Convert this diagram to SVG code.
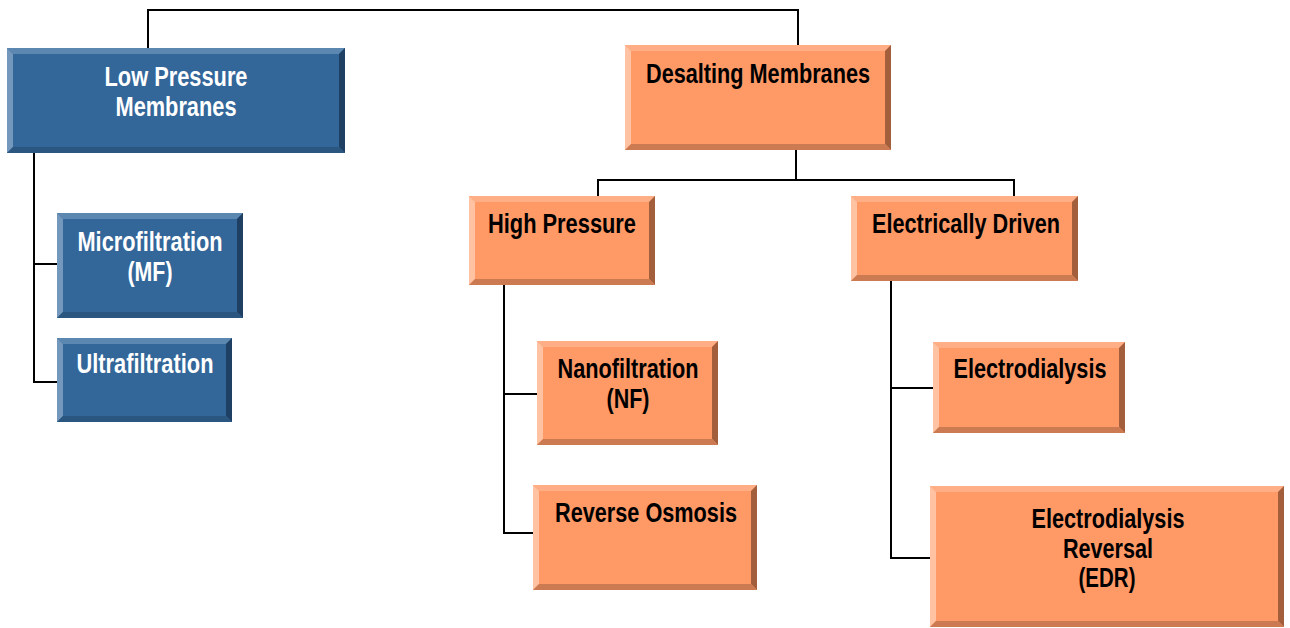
<svg xmlns="http://www.w3.org/2000/svg" width="1290" height="628" viewBox="0 0 1290 628">
  <style>
    .bf { fill: #336699; }
    .bt { fill: #5C87B1; }
    .bl { fill: #7498BC; }
    .br { fill: #1F4063; }
    .bb { fill: #2A5680; }
    .of { fill: #FF9966; }
    .ot { fill: #FFAE86; }
    .ol { fill: #FFC3A3; }
    .or { fill: #A35F3C; }
    .ob { fill: #CC7A52; }
    text { font-family: "Liberation Sans Narrow", "Arial Narrow", "Liberation Sans", sans-serif; font-weight: bold; font-size: 27px; text-anchor: middle; }
    .w { fill: #FFFFFF; }
    .k { fill: #000000; }
    .conn { fill: none; stroke: #000000; stroke-width: 2; }
  </style>

  <g id="connectors" class="conn">
    <polyline points="148,48 148,10 798,10 798,45"/>
    <polyline points="34,153 34,382 57,382"/>
    <line x1="34" y1="264" x2="57" y2="264"/>
    <polyline points="796,150 796,180"/>
    <polyline points="598,196 598,180 1014,180 1014,196"/>
    <polyline points="504,285 504,533 533,533"/>
    <line x1="504" y1="394" x2="537" y2="394"/>
    <polyline points="891,281 891,558 930,558"/>
    <line x1="891" y1="388" x2="933" y2="388"/>
  </g>

  <g id="low-pressure">
    <rect class="bf" x="7" y="48" width="338" height="105"/>
    <polygon class="bt" points="7,48 345,48 339,54 13,54"/>
    <polygon class="bl" points="7,48 13,54 13,147 7,153"/>
    <polygon class="br" points="345,48 345,153 339,147 339,54"/>
    <polygon class="bb" points="7,153 13,147 339,147 345,153"/>
    <text class="w" x="176" y="86" textLength="143" lengthAdjust="spacingAndGlyphs">Low Pressure</text>
    <text class="w" x="176" y="116" textLength="121" lengthAdjust="spacingAndGlyphs">Membranes</text>
  </g>

  <g id="desalting">
    <rect class="of" x="625" y="45" width="266" height="105"/>
    <polygon class="ot" points="625,45 891,45 885,51 631,51"/>
    <polygon class="ol" points="625,45 631,51 631,144 625,150"/>
    <polygon class="or" points="891,45 891,150 885,144 885,51"/>
    <polygon class="ob" points="625,150 631,144 885,144 891,150"/>
    <text class="k" x="758" y="83" textLength="224" lengthAdjust="spacingAndGlyphs">Desalting Membranes</text>
  </g>

  <g id="microfiltration">
    <rect class="bf" x="57" y="213" width="186" height="105"/>
    <polygon class="bt" points="57,213 243,213 237,219 63,219"/>
    <polygon class="bl" points="57,213 63,219 63,312 57,318"/>
    <polygon class="br" points="243,213 243,318 237,312 237,219"/>
    <polygon class="bb" points="57,318 63,312 237,312 243,318"/>
    <text class="w" x="150" y="251" textLength="145" lengthAdjust="spacingAndGlyphs">Microfiltration</text>
    <text class="w" x="150" y="281" textLength="45" lengthAdjust="spacingAndGlyphs">(MF)</text>
  </g>

  <g id="ultrafiltration">
    <rect class="bf" x="57" y="338" width="175" height="84"/>
    <polygon class="bt" points="57,338 232,338 226,344 63,344"/>
    <polygon class="bl" points="57,338 63,344 63,416 57,422"/>
    <polygon class="br" points="232,338 232,422 226,416 226,344"/>
    <polygon class="bb" points="57,422 63,416 226,416 232,422"/>
    <text class="w" x="145" y="373" textLength="137" lengthAdjust="spacingAndGlyphs">Ultrafiltration</text>
  </g>

  <g id="high-pressure">
    <rect class="of" x="469" y="196" width="186" height="89"/>
    <polygon class="ot" points="469,196 655,196 649,202 475,202"/>
    <polygon class="ol" points="469,196 475,202 475,279 469,285"/>
    <polygon class="or" points="655,196 655,285 649,279 649,202"/>
    <polygon class="ob" points="469,285 475,279 649,279 655,285"/>
    <text class="k" x="562" y="233" textLength="148" lengthAdjust="spacingAndGlyphs">High Pressure</text>
  </g>

  <g id="electrically-driven">
    <rect class="of" x="851" y="196" width="227" height="85"/>
    <polygon class="ot" points="851,196 1078,196 1072,202 857,202"/>
    <polygon class="ol" points="851,196 857,202 857,275 851,281"/>
    <polygon class="or" points="1078,196 1078,281 1072,275 1072,202"/>
    <polygon class="ob" points="851,281 857,275 1072,275 1078,281"/>
    <text class="k" x="966" y="233" textLength="188" lengthAdjust="spacingAndGlyphs">Electrically Driven</text>
  </g>

  <g id="nanofiltration">
    <rect class="of" x="537" y="341" width="181" height="104"/>
    <polygon class="ot" points="537,341 718,341 712,347 543,347"/>
    <polygon class="ol" points="537,341 543,347 543,439 537,445"/>
    <polygon class="or" points="718,341 718,445 712,439 712,347"/>
    <polygon class="ob" points="537,445 543,439 712,439 718,445"/>
    <text class="k" x="628" y="378" textLength="141" lengthAdjust="spacingAndGlyphs">Nanofiltration</text>
    <text class="k" x="628" y="408" textLength="43" lengthAdjust="spacingAndGlyphs">(NF)</text>
  </g>

  <g id="reverse-osmosis">
    <rect class="of" x="533" y="485" width="224" height="105"/>
    <polygon class="ot" points="533,485 757,485 751,491 539,491"/>
    <polygon class="ol" points="533,485 539,491 539,584 533,590"/>
    <polygon class="or" points="757,485 757,590 751,584 751,491"/>
    <polygon class="ob" points="533,590 539,584 751,584 757,590"/>
    <text class="k" x="646" y="522" textLength="182" lengthAdjust="spacingAndGlyphs">Reverse Osmosis</text>
  </g>

  <g id="electrodialysis">
    <rect class="of" x="933" y="342" width="192" height="91"/>
    <polygon class="ot" points="933,342 1125,342 1119,348 939,348"/>
    <polygon class="ol" points="933,342 939,348 939,427 933,433"/>
    <polygon class="or" points="1125,342 1125,433 1119,427 1119,348"/>
    <polygon class="ob" points="933,433 939,427 1119,427 1125,433"/>
    <text class="k" x="1030" y="378" textLength="153" lengthAdjust="spacingAndGlyphs">Electrodialysis</text>
  </g>

  <g id="edr">
    <rect class="of" x="930" y="486" width="354" height="141"/>
    <polygon class="ot" points="930,486 1284,486 1278,492 936,492"/>
    <polygon class="ol" points="930,486 936,492 936,621 930,627"/>
    <polygon class="or" points="1284,486 1284,627 1278,621 1278,492"/>
    <polygon class="ob" points="930,627 936,621 1278,621 1284,627"/>
    <text class="k" x="1108" y="528" textLength="153" lengthAdjust="spacingAndGlyphs">Electrodialysis</text>
    <text class="k" x="1108" y="558" textLength="90" lengthAdjust="spacingAndGlyphs">Reversal</text>
    <text class="k" x="1107" y="587" textLength="57" lengthAdjust="spacingAndGlyphs">(EDR)</text>
  </g>
</svg>
